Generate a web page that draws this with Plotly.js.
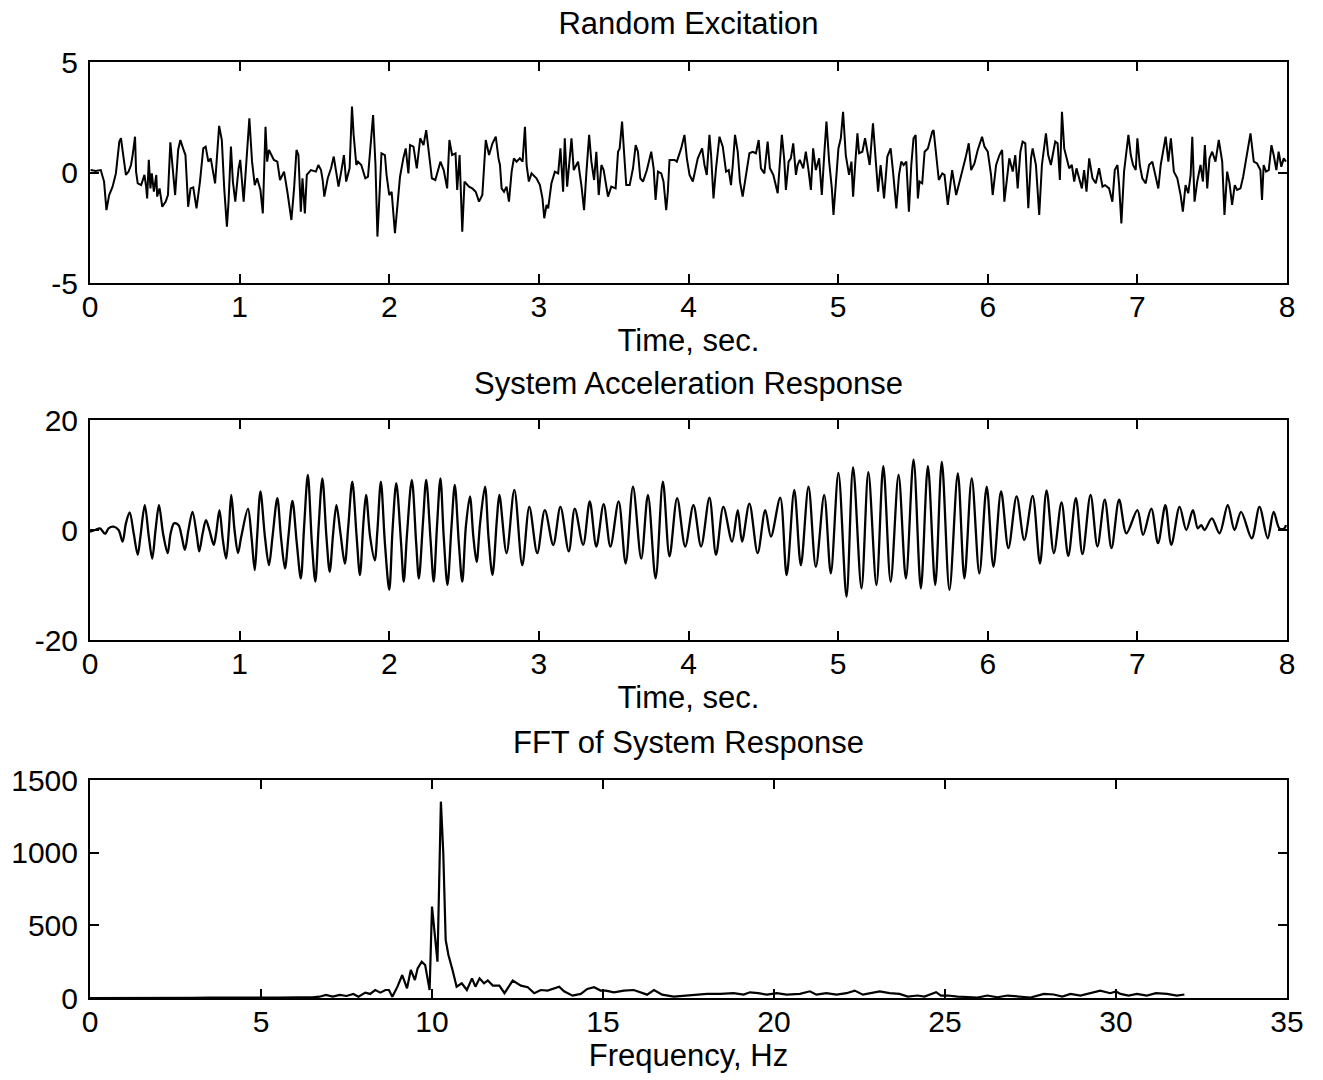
<!DOCTYPE html>
<html>
<head>
<meta charset="utf-8">
<script src="https://cdn.plot.ly/plotly-3.0.1.min.js"></script>
<style>
html,body{margin:0;padding:0;background:#fff;}
#chart{width:1323px;height:1080px;}
</style>
</head>
<body>
<div id="chart"></div>
<script>
// ---------- Data ----------
const titles = ["Random Excitation", "System Acceleration Response", "FFT of System Response"];
const xTitles = ["Time, sec.", "Time, sec.", "Frequency, Hz"];

const timeTicks = [0, 1, 2, 3, 4, 5, 6, 7, 8];
const freqTicks = [0, 5, 10, 15, 20, 25, 30, 35];
const excTicks = [-5, 0, 5];
const respTicks = [-20, 0, 20];
const fftTicks = [0, 500, 1000, 1500];

const excTime = [0.004,0.038,0.072,0.094,0.110,0.128,0.151,0.173,0.196,0.207,0.222,0.240,0.258,0.274,0.285,0.301,0.308,0.319,0.342,0.364,0.375,0.382,0.393,0.404,0.413,0.427,0.443,0.449,0.465,0.483,0.506,0.521,0.537,0.551,0.569,0.589,0.604,0.622,0.638,0.656,0.672,0.690,0.712,0.735,0.757,0.773,0.791,0.807,0.836,0.863,0.881,0.897,0.915,0.926,0.942,0.955,0.971,0.993,1.004,1.027,1.049,1.065,1.083,1.101,1.117,1.139,1.155,1.173,1.184,1.196,1.229,1.252,1.270,1.297,1.319,1.346,1.364,1.380,1.393,1.409,1.420,1.436,1.449,1.476,1.510,1.526,1.544,1.555,1.566,1.589,1.611,1.629,1.645,1.661,1.679,1.697,1.712,1.735,1.751,1.762,1.780,1.791,1.813,1.840,1.858,1.892,1.908,1.921,1.937,1.948,1.971,1.982,2.000,2.016,2.038,2.056,2.072,2.094,2.110,2.128,2.139,2.162,2.184,2.207,2.229,2.247,2.263,2.285,2.308,2.342,2.364,2.387,2.402,2.420,2.443,2.454,2.470,2.488,2.503,2.533,2.555,2.578,2.600,2.622,2.645,2.667,2.690,2.712,2.730,
2.740,2.751,2.767,2.784,2.800,2.818,2.833,2.851,2.873,2.891,2.907,2.918,2.933,2.951,2.984,3.007,3.024,3.036,3.051,3.062,3.084,3.107,3.129,3.144,3.162,3.173,3.189,3.202,3.218,3.233,3.262,3.284,3.302,3.318,3.336,3.351,3.369,3.384,3.400,3.418,3.433,3.462,3.484,3.513,3.529,3.540,3.556,3.569,3.584,3.607,3.629,3.647,3.662,3.678,3.696,3.722,3.751,3.767,3.780,3.796,3.818,3.833,3.851,3.862,3.873,3.907,3.922,3.951,3.973,3.989,4.007,4.029,4.062,4.091,4.107,4.122,4.140,4.151,4.167,4.184,4.207,4.229,4.251,4.269,4.284,4.296,4.311,4.329,4.344,4.362,4.384,4.407,4.429,4.451,4.469,4.484,4.507,4.529,4.544,4.567,4.596,4.607,4.624,4.640,4.651,4.669,4.684,4.700,4.718,4.729,4.744,4.767,4.784,4.802,4.818,4.833,4.851,4.873,4.891,4.907,4.922,4.940,4.958,4.969,4.984,5.002,5.018,5.033,5.051,5.073,5.089,5.100,5.113,5.129,5.140,5.162,5.180,5.196,5.211,5.233,5.251,5.267,5.284,5.307,5.329,5.351,
5.367,5.389,5.407,5.422,5.438,5.456,5.473,5.489,5.504,5.518,5.533,5.544,5.562,5.578,5.600,5.629,5.638,5.656,5.673,5.696,5.711,5.733,5.749,5.762,5.789,5.807,5.833,5.851,5.873,5.889,5.911,5.933,5.962,5.978,6.000,6.022,6.033,6.056,6.078,6.096,6.111,6.127,6.144,6.167,6.184,6.200,6.218,6.233,6.251,6.271,6.289,6.300,6.322,6.344,6.362,6.389,6.404,6.422,6.451,6.467,6.482,6.496,6.511,6.522,6.544,6.562,6.578,6.593,6.611,6.629,6.644,6.660,6.678,6.700,6.722,6.744,6.767,6.784,6.811,6.833,6.849,6.867,6.878,6.893,6.911,6.927,6.940,6.956,6.971,6.989,7.000,7.016,7.033,7.056,7.078,7.100,7.122,7.140,7.156,7.171,7.189,7.207,7.224,7.244,7.267,7.289,7.304,7.322,7.340,7.356,7.367,7.382,7.400,7.422,7.438,7.451,7.467,7.482,7.500,7.522,7.544,7.567,7.582,7.600,7.616,7.633,7.651,7.667,7.689,7.707,7.733,7.756,7.778,7.800,7.822,7.833,7.844,7.860,7.878,7.896,7.911,7.929,7.944,7.962,7.978,7.993];
const excValue = [0.11,0.07,0.11,-0.41,-1.70,-1.02,-0.64,-0.04,1.40,1.55,0.79,-0.11,0.04,0.34,0.79,1.62,0.04,-0.49,-0.57,-0.11,-0.64,-1.17,0.57,-0.72,-0.04,-0.87,-0.11,-1.09,-0.72,-1.55,-1.32,-1.02,1.37,0.34,-1.02,1.02,1.47,1.09,0.79,-1.55,-0.72,-0.67,-1.62,-0.41,1.09,1.17,0.49,0.64,-0.49,2.11,1.47,-0.72,-2.45,-1.32,1.17,-0.41,-1.32,0.19,0.57,-1.32,0.79,2.45,0.49,-0.57,-0.26,-0.79,-1.85,2.07,0.49,1.02,0.57,0.49,-0.34,0.04,-0.87,-2.15,-0.72,1.02,0.79,-1.77,-0.26,-1.85,-0.11,0.11,0.04,0.34,0.11,-0.34,-1.09,-0.26,0.19,0.72,0.04,-0.64,0.04,0.79,-0.41,0.19,2.98,1.70,0.34,0.49,0.34,-0.26,-0.19,2.60,0.34,-2.90,-0.72,0.87,0.79,-0.11,-1.02,-0.87,-2.75,-1.32,-0.19,0.64,1.09,-0.04,1.24,1.17,0.19,1.55,1.24,1.92,1.09,-0.26,-0.34,0.49,0.11,-0.72,1.47,0.79,0.87,-0.79,0.79,-2.68,-0.41,-0.64,-0.72,-0.87,-1.32,-1.02,1.47,0.79,1.32,1.62,0.64,
0.34,-0.72,-0.87,-0.64,-1.32,0.04,0.64,0.49,0.64,0.49,2.07,0.34,-0.41,-0.04,-0.26,-0.57,-1.17,-2.07,-1.47,-1.62,-0.49,0.04,-0.04,1.09,-0.87,1.55,-0.64,0.34,1.55,0.11,0.49,-0.57,-1.70,0.04,1.70,0.49,-0.34,0.94,-1.02,0.34,0.11,-1.09,-0.64,-0.72,0.94,1.09,2.30,0.94,-0.57,-0.57,0.19,1.24,0.94,-0.26,-0.41,0.11,0.94,0.19,-1.24,0.04,-0.04,-0.41,-1.70,-0.87,0.57,0.57,0.49,1.09,1.70,0.64,-0.11,-0.41,0.64,1.09,0.34,-0.11,1.70,0.79,-1.17,0.19,1.62,1.17,0.04,0.11,-0.57,0.34,1.70,0.94,-0.41,-1.09,-0.11,0.87,0.94,0.87,1.47,0.19,-0.04,1.40,0.19,-0.11,-0.94,-0.04,1.70,0.57,-0.79,0.49,0.64,1.32,-0.11,0.34,0.57,0.19,0.94,0.11,-0.79,1.09,0.11,0.64,-1.02,0.79,2.30,0.49,-0.72,-1.92,-0.41,1.09,1.55,2.75,0.79,-0.11,0.49,-1.09,0.26,1.77,0.87,0.94,1.55,0.94,0.34,2.22,0.79,-0.87,0.34,-1.17,0.72,1.09,
0.04,-1.62,-0.11,0.49,0.34,0.49,-1.77,0.34,1.55,1.70,-1.17,-0.41,-0.49,0.94,1.09,1.85,1.92,0.64,-0.34,-0.04,-0.11,-1.47,-0.72,0.11,-1.02,-0.57,0.19,0.64,1.32,0.11,0.41,1.02,1.62,1.17,0.94,-0.11,-1.02,0.34,0.79,1.02,-1.32,-0.26,0.64,0.04,0.79,-0.72,0.94,1.40,1.32,-1.62,0.64,1.09,0.34,-1.92,0.34,1.77,0.79,0.34,1.40,1.32,-0.34,2.75,1.09,0.79,0.19,0.34,-0.41,0.19,-0.26,-0.72,0.11,-0.87,0.64,-0.26,-0.49,0.19,-0.64,-0.57,-0.72,-1.32,0.11,0.34,-0.57,-2.30,0.04,0.94,1.70,0.79,0.34,0.11,1.55,0.34,-0.26,-0.49,0.34,0.49,-0.11,-0.72,0.34,0.94,1.62,0.49,1.55,0.04,-0.26,-1.02,-1.77,-0.57,-0.94,-0.11,1.62,-1.32,-0.41,0.34,-0.41,1.24,-0.72,0.64,0.94,0.49,1.47,0.49,-1.92,0.04,-0.49,-1.47,-0.57,-0.79,-0.72,-0.19,0.79,1.77,0.49,0.41,0.11,-1.24,0.34,0.04,0.11,1.24,0.79,0.11,0.94,0.26,0.64,0.49];

const respTime = [0.000,0.034,0.067,0.101,0.124,0.157,0.191,0.218,0.240,0.265,0.292,0.319,0.337,0.366,0.393,0.416,0.438,0.461,0.488,0.519,0.539,0.562,0.591,0.613,0.634,0.658,0.685,0.715,0.730,0.753,0.775,0.798,0.827,0.843,0.865,0.888,0.910,0.928,0.944,0.966,0.989,1.011,1.056,1.079,1.101,1.117,1.139,1.169,1.196,1.220,1.252,1.276,1.303,1.326,1.353,1.382,1.409,1.431,1.456,1.483,1.506,1.528,1.553,1.580,1.602,1.625,1.647,1.674,1.703,1.726,1.753,1.782,1.804,1.827,1.845,1.872,1.903,1.921,1.944,1.971,2.000,2.022,2.047,2.079,2.097,2.119,2.151,2.180,2.198,2.225,2.247,2.276,2.297,2.319,2.342,2.364,2.389,2.416,2.438,2.465,2.488,2.512,2.539,2.562,2.584,2.607,2.640,2.663,2.690,2.719,
2.736,2.784,2.836,2.889,2.936,2.989,3.040,3.096,3.144,3.200,3.240,3.296,3.340,3.384,3.433,3.478,3.533,3.580,3.629,3.684,3.729,3.780,3.829,3.873,3.924,3.978,4.033,4.084,4.140,4.184,4.233,4.291,4.329,4.358,4.407,4.462,4.513,4.551,4.613,4.656,4.707,4.751,4.802,4.851,4.907,4.951,5.002,5.056,5.100,5.156,5.202,5.256,5.302,5.351,
5.404,5.453,5.504,5.553,5.600,5.649,5.693,5.744,5.800,5.844,5.893,5.944,5.993,6.038,6.089,6.138,6.193,6.244,6.300,6.349,6.393,6.442,6.493,6.538,6.589,6.633,6.687,6.733,6.782,6.827,6.878,6.927,7.000,7.038,7.093,7.138,7.187,7.227,7.282,7.327,7.371,7.404,7.427,7.449,7.498,7.549,7.604,7.649,7.693,7.764,7.816,7.871,7.911,7.949,7.982,7.993];
const respValue = [-0.3,0,0.3,-0.7,0.3,0.6,0,-2.1,1.2,3.2,-0.6,-4.5,-1.2,4.5,-1.2,-5.2,0,4.5,-0.6,-4.2,-0.6,1.2,0.9,-1.2,-3.6,0,3.3,-1.2,-3.9,-0.6,1.8,0,-2.7,-0.6,3.6,-1.8,-5.2,0,6.4,0,-4.2,-1.2,3.9,-1.2,-7.3,-1.2,7.0,-1.2,-6.4,-1.2,5.8,-1.2,-7.0,-1.2,5.3,-2.4,-8.8,0.6,10.0,-2.4,-9.4,0.6,9.4,-1.2,-7.6,-0.6,4.5,-0.6,-6.1,0.6,8.8,-1.2,-8.2,1.2,6.4,-1.2,-5.5,0,8.8,-2.4,-10.9,0,8.5,-2.4,-9.4,-0.6,9.1,-2.4,-8.8,1.2,9.1,-1.8,-9.4,0.6,9.4,-1.2,-10.0,0.6,8.2,-2.4,-9.4,0.6,6.1,-1.2,-5.8,1.2,7.9,-1.2,-8.2,1.8,
6.4,-4.2,7.3,-6.4,4.2,-4.2,3.6,-2.7,4.2,-3.9,3.9,-2.7,5.2,-3.0,4.7,-3.0,5.2,-6.1,7.9,-5.2,6.4,-8.8,8.8,-4.8,5.8,-3.0,4.5,-3.0,5.9,-4.5,4.2,-2.1,3.6,-2.1,4.8,-4.2,3.6,-1.2,5.9,-8.2,7.3,-6.4,7.9,-6.7,6.4,-7.9,10.4,-12.1,11.4,-10.6,10.5,-10.0,11.6,-9.4,
10.0,-8.8,12.8,-10.6,11.6,-10.0,12.4,-10.9,10.3,-8.8,9.4,-7.9,7.9,-6.7,7.0,-3.3,6.1,-1.8,6.2,-6.1,7.2,-4.2,5.0,-4.7,5.8,-4.4,6.4,-3.0,5.5,-3.3,5.5,-0.6,3.6,-0.9,3.9,-2.4,4.5,-2.7,4.2,0,3.6,0.3,0.9,0,2.1,-0.6,4.5,0,3.3,-1.5,4.2,-1.5,3.3,0.3,0.3,0.9];

const fftFreq = [0,0.5,1,1.5,2,2.5,3,3.5,4,4.5,5,5.5,6.11,6.5,6.71,6.90,7.10,7.30,7.50,7.70,7.85,8.05,8.19,8.34,8.49,8.64,8.74,8.84,8.99,9.13,9.27,9.38,9.50,9.58,9.70,9.80,9.86,9.93,10.00,10.08,10.16,10.26,10.33,10.40,10.48,10.60,10.72,10.87,11.02,11.17,11.27,11.39,11.52,
11.63,11.78,11.97,12.12,12.36,12.60,12.80,12.99,13.18,13.38,13.72,13.86,14.11,14.35,14.54,14.74,14.93,15.08,15.32,15.61,15.90,16.15,16.29,16.49,16.73,17.07,17.46,18.04,18.43,18.82,19.11,19.30,19.54,19.79,20.00,20.08,20.37,20.76,21.05,21.24,21.53,21.83,22.12,22.36,22.60,22.89,23.09,23.38,
23.67,23.91,24.20,24.40,24.59,24.74,24.88,25.00,25.08,25.37,25.66,25.95,26.24,26.53,26.83,27.21,27.50,27.89,28.18,28.43,28.67,28.96,29.25,29.54,29.83,30.00,30.13,30.37,30.61,30.90,31.17,31.49,31.78,32.00];
const fftMag = [0,1,0,1,2,1,1,2,1,2,1,3,5,4,9,21,9,21,14,28,9,37,28,55,37,55,55,9,78,158,67,193,124,204,250,227,147,55,629,445,250,1351,996,399,296,193,78,101,55,135,78,135,101,
120,85,85,33,120,85,74,33,55,51,78,46,16,28,62,74,51,51,39,51,55,33,23,55,23,10,16,28,28,33,23,39,33,23,30,33,23,28,46,23,33,23,33,51,23,39,46,33,
28,10,17,10,28,40,17,20,17,10,5,3,17,5,17,10,3,28,24,10,28,17,33,51,33,45,28,17,28,17,33,28,17,24];

// ---------- Chart ----------
const FONT = 'Arial, "Liberation Sans", Helvetica, sans-serif';
function xAxis(ticks, range, title, anchor) {
  return {
    range: range, tickmode: 'array', tickvals: ticks, ticktext: ticks.map(String),
    showline: true, linecolor: 'black', linewidth: 2, mirror: 'ticks',
    ticks: 'inside', ticklen: 9, tickwidth: 2, tickcolor: 'black',
    showgrid: false, zeroline: false, ticklabelstandoff: -4,
    tickfont: {family: FONT, size: 30, color: 'black'},
    title: {text: title, font: {family: FONT, size: 31, color: 'black'}, standoff: 2},
    anchor: anchor, fixedrange: true
  };
}
function yAxis(ticks, range, domain, anchor) {
  return {
    range: range, domain: domain, tickmode: 'array', tickvals: ticks, ticktext: ticks.map(String),
    showline: true, linecolor: 'black', linewidth: 2, mirror: 'ticks',
    ticks: 'inside', ticklen: 9, tickwidth: 2, tickcolor: 'black',
    showgrid: false, zeroline: false, ticklabelstandoff: 4,
    tickfont: {family: FONT, size: 30, color: 'black'},
    anchor: anchor, fixedrange: true
  };
}

const traces = [
  {x: excTime, y: excValue, xaxis: 'x', yaxis: 'y', type: 'scatter', mode: 'lines',
   line: {color: 'black', width: 2}, hoverinfo: 'skip'},
  {x: respTime, y: respValue, xaxis: 'x2', yaxis: 'y2', type: 'scatter', mode: 'lines',
   line: {color: 'black', width: 2.3, shape: 'spline', smoothing: 0.9}, hoverinfo: 'skip'},
  {x: fftFreq, y: fftMag, xaxis: 'x3', yaxis: 'y3', type: 'scatter', mode: 'lines',
   line: {color: 'black', width: 2.2}, hoverinfo: 'skip'}
];

const H = 936; // plotting height in px (paper)
const py = (pix) => (998 - pix) / H;

const layout = {
  width: 1323, height: 1080,
  margin: {l: 90, r: 36, t: 62, b: 82},
  paper_bgcolor: 'white', plot_bgcolor: 'white',
  showlegend: false,
  font: {family: FONT, color: 'black'},
  title: {text: titles[0], font: {family: FONT, size: 31, color: 'black'},
          xref: 'paper', x: 0.5, xanchor: 'center', yref: 'container', y: 1 - 23 / 1080, yanchor: 'middle'},
  xaxis: xAxis(timeTicks, [0, 8], xTitles[0], 'y'),
  yaxis: yAxis(excTicks, [-5, 5], [py(283), 1], 'x'),
  xaxis2: xAxis(timeTicks, [0, 8], xTitles[1], 'y2'),
  yaxis2: yAxis(respTicks, [-20, 20], [py(640), py(420)], 'x2'),
  xaxis3: xAxis(freqTicks, [0, 35], xTitles[2], 'y3'),
  yaxis3: yAxis(fftTicks, [0, 1500], [0, py(780)], 'x3'),
  annotations: [
    {text: titles[1], xref: 'paper', yref: 'paper', x: 0.5, y: py(383), xanchor: 'center', yanchor: 'middle',
     showarrow: false, font: {family: FONT, size: 31, color: 'black'}},
    {text: titles[2], xref: 'paper', yref: 'paper', x: 0.5, y: py(742), xanchor: 'center', yanchor: 'middle',
     showarrow: false, font: {family: FONT, size: 31, color: 'black'}}
  ]
};

Plotly.newPlot('chart', traces, layout, {staticPlot: true, displayModeBar: false});
</script>
</body>
</html>
